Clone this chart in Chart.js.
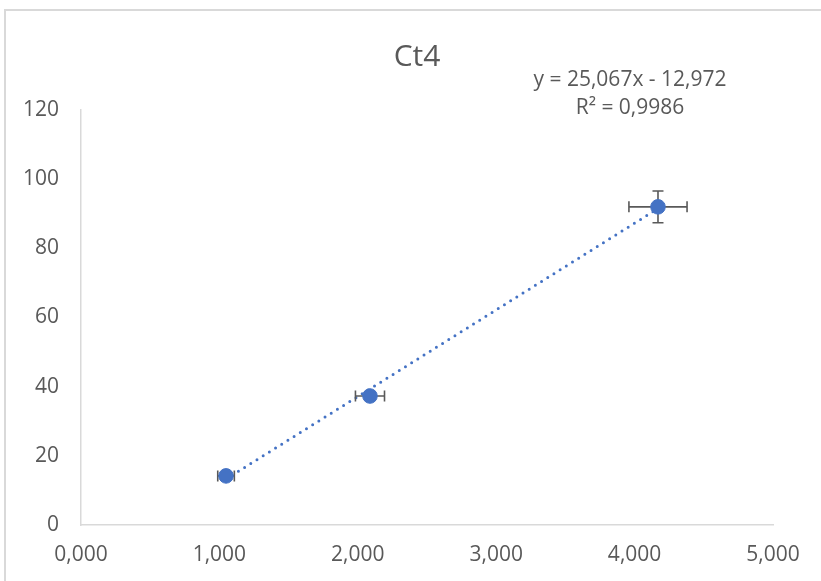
<!DOCTYPE html>
<html>
<head>
<meta charset="utf-8">
<title>Ct4</title>
<script src="https://cdn.jsdelivr.net/npm/chart.js@4/dist/chart.umd.min.js"></script>
<style>
  html, body { margin: 0; padding: 0; background: #ffffff; }
  #wrap { position: relative; width: 821px; height: 581px; overflow: hidden; }
  #frame { position: absolute; left: 4px; top: 9px; width: 900px; height: 700px;
           border: 2px solid #d9d9d9; box-sizing: border-box; }
  #chart { position: absolute; left: 0; top: 0; }
</style>
</head>
<body>
<div id="wrap">
  <div id="frame"></div>
  <canvas id="chart" width="821" height="581"></canvas>
</div>
<script>
// Measured concentrations (x) and responses (y), with standard deviations
const xValues = [1.048, 2.088, 4.169];
const yValues = [14.2, 37.3, 92.0];
const xErrors = [0.06, 0.105, 0.21];
const yErrors = [1.0, 1.2, 4.6];

// Linear trendline y = slope * x + intercept
const slope = 25.067;
const intercept = -12.972;
const rSquared = 0.9986;

const titleText = 'Ct4';
const equationText = 'y = 25,067x - 12,972';
const rSquaredText = 'R² = 0,9986';

const xTickLabels = ['0,000', '1,000', '2,000', '3,000', '4,000', '5,000'];
const yTickLabels = ['0', '20', '40', '60', '80', '100', '120'];

const FONT = '"Open Sans", "Liberation Sans", sans-serif';
const TEXT = '#595959';
const BLUE = '#4472C4';

const points = xValues.map((x, i) => ({ x: x, y: yValues[i] }));
const xMin = Math.min(...xValues);
const xMax = Math.max(...xValues);
const trend = [
  { x: xMin, y: slope * xMin + intercept },
  { x: xMax, y: slope * xMax + intercept }
];

// Whiskers with end caps, drawn underneath the markers
const errorBars = {
  id: 'errorBars',
  beforeDatasetDraw(chart, args) {
    if (args.index !== 0) return;
    const { ctx, scales: { x, y } } = chart;
    const cap = 5.5;
    ctx.save();
    ctx.strokeStyle = '#595959';
    ctx.lineWidth = 1.6;
    ctx.beginPath();
    xValues.forEach((xv, i) => {
      const px = x.getPixelForValue(xv);
      const py = y.getPixelForValue(yValues[i]);
      const x0 = x.getPixelForValue(xv - xErrors[i]);
      const x1 = x.getPixelForValue(xv + xErrors[i]);
      const y0 = y.getPixelForValue(yValues[i] - yErrors[i]);
      const y1 = y.getPixelForValue(yValues[i] + yErrors[i]);
      ctx.moveTo(x0, py); ctx.lineTo(x1, py);
      ctx.moveTo(x0, py - cap); ctx.lineTo(x0, py + cap);
      ctx.moveTo(x1, py - cap); ctx.lineTo(x1, py + cap);
      ctx.moveTo(px, y0); ctx.lineTo(px, y1);
      ctx.moveTo(px - cap, y0); ctx.lineTo(px + cap, y0);
      ctx.moveTo(px - cap, y1); ctx.lineTo(px + cap, y1);
    });
    ctx.stroke();
    ctx.restore();
  }
};

// Chart title and trendline equation
const annotations = {
  id: 'annotations',
  afterDraw(chart) {
    const ctx = chart.ctx;
    ctx.save();
    ctx.fillStyle = TEXT;
    ctx.textAlign = 'center';
    ctx.textBaseline = 'middle';
    ctx.font = '30px ' + FONT;
    ctx.fillText(titleText, 417, 57);
    ctx.font = '21px ' + FONT;
    ctx.fillText(equationText, 630, 80);
    ctx.fillText(rSquaredText, 630, 108);
    ctx.restore();
  }
};

new Chart(document.getElementById('chart'), {
  type: 'scatter',
  data: {
    datasets: [
      {
        label: 'Ct4',
        data: points,
        backgroundColor: BLUE,
        borderColor: BLUE,
        borderWidth: 1,
        pointRadius: 7.3,
        pointHoverRadius: 7.3,
        order: 0
      },
      {
        label: 'Linear',
        type: 'line',
        data: trend,
        borderColor: BLUE,
        borderWidth: 3,
        borderDash: [0, 7.3],
        borderCapStyle: 'round',
        pointRadius: 0,
        fill: false,
        order: 1
      }
    ]
  },
  options: {
    responsive: false,
    animation: false,
    events: [],
    layout: { padding: { left: 0, right: 48, top: 110, bottom: 0 } },
    plugins: {
      legend: { display: false },
      title: { display: false },
      tooltip: { enabled: false }
    },
    scales: {
      x: {
        type: 'linear',
        min: 0,
        max: 5,
        afterBuildTicks(scale) {
          scale.ticks = xTickLabels.map((_, i) => ({ value: i }));
        },
        afterFit(scale) { scale.height = 56; },
        grid: { drawOnChartArea: false, drawTicks: false },
        border: { display: true, color: '#d9d9d9', width: 1.5 },
        ticks: {
          color: TEXT,
          font: { family: FONT, size: 21 },
          padding: 17,
          maxRotation: 0,
          autoSkip: false,
          callback: (v, i) => xTickLabels[i]
        }
      },
      y: {
        type: 'linear',
        min: 0,
        max: 120,
        afterBuildTicks(scale) {
          scale.ticks = yTickLabels.map((_, i) => ({ value: i * 20 }));
        },
        afterFit(scale) { scale.width = 81; },
        grid: { drawOnChartArea: false, drawTicks: false },
        border: { display: true, color: '#d9d9d9', width: 1.5 },
        ticks: {
          color: TEXT,
          font: { family: FONT, size: 21 },
          padding: 22,
          autoSkip: false,
          callback: (v, i) => yTickLabels[i]
        }
      }
    }
  },
  plugins: [errorBars, annotations]
});
</script>
</body>
</html>
